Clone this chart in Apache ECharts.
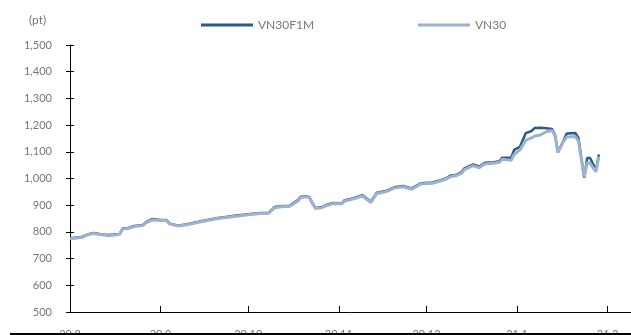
<!DOCTYPE html>
<html>
<head>
<meta charset="utf-8">
<script src="https://cdn.jsdelivr.net/npm/echarts@6/dist/echarts.min.js"></script>
<style>
  html, body { margin: 0; padding: 0; background: #fff; }
  #chart { width: 631px; height: 335px; }
</style>
</head>
<body>
<div id="chart"></div>
<script>
// calendar dates
const dates = [
  '2020-08-01', '2020-08-05', '2020-08-07', '2020-08-09', '2020-08-12', '2020-08-14', '2020-08-17', '2020-08-18',
  '2020-08-19', '2020-08-21', '2020-08-23', '2020-08-26', '2020-08-27', '2020-08-29', '2020-09-01', '2020-09-03',
  '2020-09-04', '2020-09-07', '2020-09-10', '2020-09-14', '2020-09-17', '2020-09-20', '2020-09-24', '2020-09-27',
  '2020-10-01', '2020-10-05', '2020-10-08', '2020-10-10', '2020-10-13', '2020-10-15', '2020-10-16', '2020-10-18',
  '2020-10-19', '2020-10-21', '2020-10-22', '2020-10-23', '2020-10-24', '2020-10-26', '2020-10-28', '2020-10-30',
  '2020-11-02', '2020-11-03', '2020-11-05', '2020-11-07', '2020-11-09', '2020-11-12', '2020-11-14', '2020-11-17',
  '2020-11-20', '2020-11-23', '2020-11-26', '2020-11-29', '2020-12-03', '2020-12-06', '2020-12-08', '2020-12-09',
  '2020-12-11', '2020-12-13', '2020-12-14', '2020-12-17', '2020-12-19', '2020-12-21', '2020-12-24', '2020-12-26',
  '2020-12-27', '2020-12-30', '2020-12-31', '2021-01-02', '2021-01-04', '2021-01-06', '2021-01-07', '2021-01-09',
  '2021-01-11', '2021-01-13', '2021-01-14', '2021-01-15', '2021-01-17', '2021-01-18', '2021-01-21', '2021-01-22',
  '2021-01-24', '2021-01-25', '2021-01-26', '2021-01-28', '2021-01-29'
]

const vn30f1m = [
  776, 781, 790, 796, 790, 788, 791, 792,
  813, 815, 822, 826, 837, 848, 845, 845,
  832, 823, 829, 838, 845, 851, 857, 861,
  866, 871, 872, 893, 897, 897, 904, 919,
  932, 934, 929, 908, 890, 892, 902, 908,
  907, 919, 923, 930, 938, 913, 947, 953,
  967, 972, 963, 982, 985, 994, 1002, 1010,
  1013, 1024, 1038, 1053, 1044, 1059, 1061, 1065,
  1078, 1078, 1107, 1119, 1170, 1178, 1189, 1190,
  1188, 1185, 1163, 1098, 1144, 1169, 1170, 1152,
  1003, 1077, 1077, 1032, 1090
]

const vn30 = [
  774, 779, 789, 794, 789, 786, 789, 791,
  811, 813, 820, 824, 834, 845, 843, 843,
  830, 822, 827, 836, 843, 849, 855, 859,
  864, 869, 870, 890, 895, 895, 902, 916,
  929, 932, 927, 906, 888, 890, 899, 906,
  905, 916, 921, 927, 935, 910, 944, 950,
  964, 969, 960, 979, 982, 991, 999, 1006,
  1010, 1020, 1033, 1048, 1040, 1054, 1057, 1061,
  1072, 1068, 1090, 1107, 1144, 1152, 1159, 1163,
  1175, 1180, 1160, 1098, 1140, 1155, 1157, 1140,
  1005, 1060, 1057, 1025, 1082
]

const yTicks = [500, 600, 700, 800, 900, 1000, 1100, 1200, 1300, 1400, 1500]

const chart = echarts.init(document.getElementById('chart'))

const DAY = 86400000
const font = 'Lato, "Open Sans", sans-serif'

const fmtThousand = v => String(v).replace(/\B(?=(\d{3})+(?!\d))/g, ',')

const series = [
  {
    name: 'VN30F1M',
    type: 'line',
    data: dates.map((d, i) => [d, vn30f1m[i]]),
    symbol: 'none',
    lineStyle: { width: 2.5, color: '#2c5a88' },
    itemStyle: { color: '#2c5a88' },
    z: 2
  },
  {
    name: 'VN30',
    type: 'line',
    data: dates.map((d, i) => [d, vn30[i]]),
    symbol: 'none',
    lineStyle: { width: 3, color: '#9cb2d0' },
    itemStyle: { color: '#9cb2d0' },
    z: 3
  }
]

const legendBase = {
  icon: 'rect',
  itemWidth: 52,
  itemHeight: 3,
  itemGap: 4,
  top: 14,
  textStyle: { fontSize: 12, color: '#777', fontFamily: font }
}

const option = {
  animation: false,
  textStyle: { fontFamily: font },
  title: {
    text: '(pt)',
    left: 24,
    top: 9,
    textStyle: { fontSize: 12, fontWeight: 'normal', color: '#777', fontFamily: font }
  },
  legend: [
    Object.assign({}, legendBase, { data: ['VN30F1M'], left: 196 }),
    Object.assign({}, legendBase, { data: ['VN30'], left: 413 })
  ],
  grid: { left: 70, right: 0, top: 45, bottom: 23, containLabel: false, outerBoundsMode: 'none' },
  xAxis: {
    type: 'time',
    min: '2020-08-01',
    max: '2021-02-09',
    minInterval: 28 * DAY,
    maxInterval: 31 * DAY,
    axisLine: { lineStyle: { color: '#000', width: 1 } },
    axisTick: { inside: true, length: 6, lineStyle: { color: '#000' } },
    splitLine: { show: false },
    axisLabel: {
      color: '#777',
      fontSize: 11,
      margin: 17,
      showMaxLabel: false,
      formatter: v => {
        const d = new Date(v)
        return String(d.getFullYear()).slice(2) + '.' + (d.getMonth() + 1)
      }
    }
  },
  yAxis: [
    {
      type: 'value',
      min: yTicks[0],
      max: yTicks[yTicks.length - 1],
      interval: 100,
      axisLine: { show: true, lineStyle: { color: '#000', width: 1 } },
      axisTick: { show: true, length: 4, lineStyle: { color: '#000' } },
      splitLine: { show: false },
      axisLabel: { color: '#777', fontSize: 11, margin: 18, formatter: fmtThousand }
    },
    {
      type: 'value',
      position: 'left',
      min: yTicks[0],
      max: yTicks[yTicks.length - 1],
      interval: 100,
      axisLine: { show: false },
      axisTick: { show: true, inside: true, length: 4, lineStyle: { color: '#000' } },
      splitLine: { show: false },
      axisLabel: { show: false }
    }
  ],
  graphic: [
    {
      type: 'rect',
      z: 100,
      shape: { x: 10, y: 333, width: 621, height: 2 },
      style: { fill: '#000' }
    }
  ],
  series
}

chart.setOption(option)
</script>
</body>
</html>
